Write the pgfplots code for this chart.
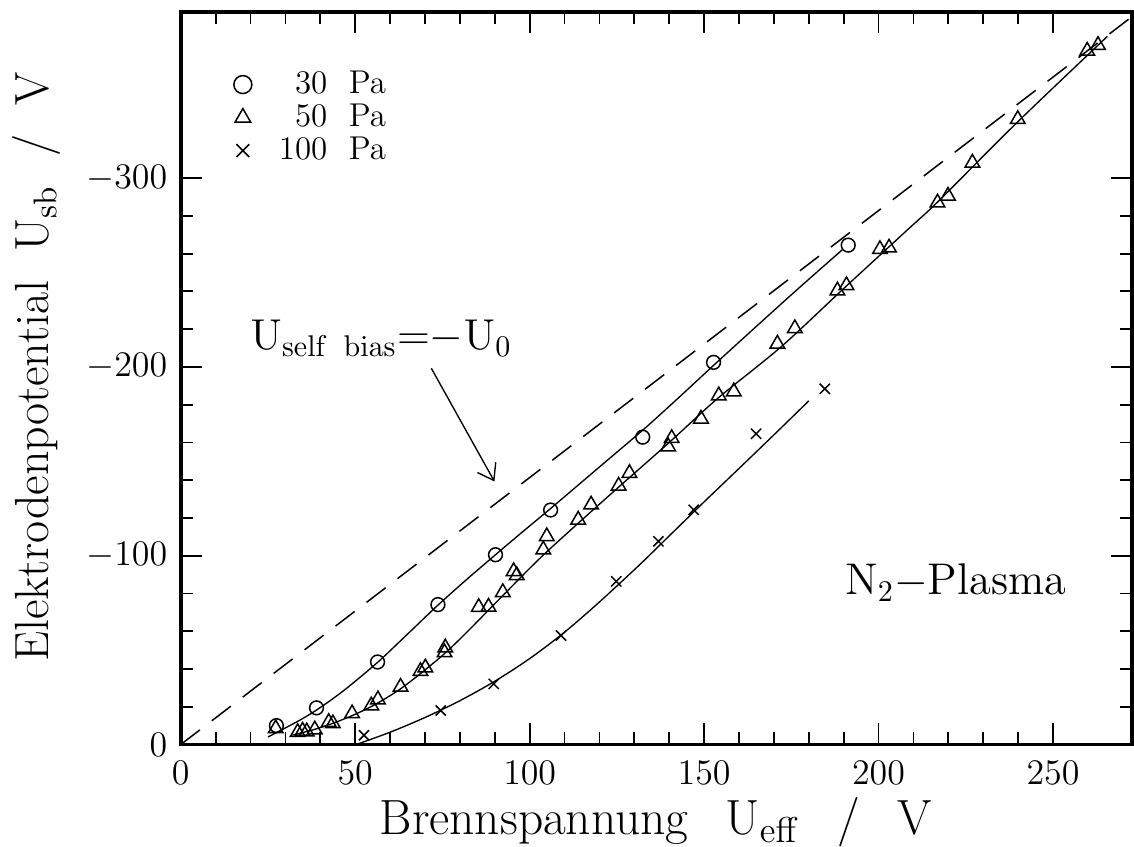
\documentclass[border=0pt]{standalone}
\usepackage{pgfplots}
\pgfplotsset{compat=1.18}
\usetikzlibrary{arrows.meta}
\begin{document}
\begin{tikzpicture}
\begin{axis}[
  name=ax,
  scale only axis,
  width=317.3pt, height=244.3pt,
  xmin=0, xmax=272.7, ymin=0, ymax=388,
  xtick={0,50,100,150,200,250},
  ytick={0,100,200,300},
  yticklabels={$0$,$-100$,$-200$,$-300$},
  minor x tick num=4,
  minor y tick num=4,
  tick align=inside,
  major tick length=7pt,
  minor tick length=4pt,
  every tick/.style={black, line width=0.6pt},
  axis line style={line width=1.2pt},
  tick label style={font=\fontsize{12.5}{14}\selectfont},
  xticklabel style={yshift=-2pt},
  yticklabel style={xshift=-1pt},
  xlabel={Brennspannung\hspace{0.75em}U$_{\mathrm{eff}}$\hspace{0.75em}/\hspace{0.75em}V},
  ylabel={Elektrodenpotential\ \ U$_{\mathrm{sb}}$\ \ /\ \ V},
  label style={font=\fontsize{16}{18}\selectfont, inner sep=0pt},
  xlabel style={font=\fontsize{16.5}{18}\selectfont, at={(axis description cs:0.499,-0.1404)}, anchor=south},
  ylabel style={at={(axis description cs:-0.1774,0.515)}, anchor=north},
  legend style={draw=none, fill=none, at={(axis description cs:0,1)}, anchor=north west,
    xshift=17.5pt, yshift=-17.5pt, font=\fontsize{11}{11}\selectfont, row sep=-2pt, column sep=7pt, inner sep=0pt},
  legend cell align=right,
  legend image post style={mark size=3pt},
]
\addplot[only marks, mark=o, mark size=2.3pt, line width=0.5pt] coordinates {
(27.4,10) (38.9,19.4) (56.4,43.7) (73.7,74.1) (90.2,100.5) (106,124.2) (132.4,162.8) (152.7,202.4) (191.3,264.5)};
\addlegendentry{30\ \ Pa}
\addplot[only marks, mark=triangle, mark size=2.8pt, line width=0.5pt] coordinates {
(27.2,8.5) (33.5,6.5) (34.9,7.2) (36.1,6.8) (38.4,7.9) (42.4,11.8) (43.6,11.1) (49.1,16.4)
(54.6,20.6) (56.5,23.8) (63,30.5) (68.7,38.8) (70.1,40.7) (75.6,48.7) (75.8,51.3) (85.4,72.7)
(88.2,72.9) (92.3,80.6) (95.4,91.7) (96.3,89.6) (103.9,103.2) (104.9,110.2) (113.9,119) (117.6,127)
(125.5,137) (128.6,143.7) (139.7,157.8) (140.7,162.2) (149.1,172.5) (154.2,184.8) (158.5,186.9)
(171,212.2) (176,220.4) (188.2,240.4) (190.8,243.2) (200.4,262.3) (203,263.1) (216.9,287)
(219.9,290.6) (226.9,308.1) (239.9,331.2) (259.8,367.4) (262.9,370.4)};
\addlegendentry{50\ \ Pa}
\addplot[only marks, mark=x, mark size=2.4pt, line width=0.5pt] coordinates {
(52.5,4.9) (74.5,18) (89.7,32.1) (109,57.7) (124.8,86.4) (136.9,107.6) (147,124.3) (164.9,164.6) (184.6,188.4)};
\addlegendentry{100\ \ Pa}
% fitted curves
\addplot[forget plot, line width=0.45pt, smooth] coordinates {
(25,4) (30,8.8) (35,13.8) (40,19.6) (47,29) (56.4,43.5) (65,58.5) (73.7,73.8) (82,87.5) (90.2,100.5)
(98,112.7) (106,125) (120,147) (132.4,166.5) (142,182.5) (152.7,200.8) (165,221.5) (177,241.5) (189.7,262.2)};
\addplot[forget plot, line width=0.45pt, smooth] coordinates {
(32,5) (38,7.8) (44,11.5) (50,16) (56,21.5) (63,29.5) (70,39.5) (76,48.8) (82,59.5) (92,78.3)
(104,100.5) (121.4,129.6) (140,160) (154,183.5) (172.1,210.7) (190,241.5) (208.4,272.8) (217,287.5)
(240,330) (265.6,375.1)};
\addplot[forget plot, line width=0.45pt, smooth] coordinates {
(50.3,0) (60,6.5) (70,14.3) (80,23.2) (90,33.5) (100,45.5) (110,59.5) (120,75.5) (131.4,95)
(140,110.5) (150,128.5) (160,146.2) (170,164) (180,182)};
\addplot[forget plot, line width=0.5pt, dash pattern=on 8pt off 5pt] coordinates {(0,0) (272.7,385.6)};
\node[anchor=base west, font=\fontsize{14}{16}\selectfont, inner sep=0pt] at (axis cs:19.8,209)
  {$\mathrm{U_{self\;\;bias}{=}{-}U_0}$};
\draw[-{Straight Barb[length=5pt,width=7pt]}, line width=0.45pt] (axis cs:71.8,199.3) -- (axis cs:89.9,139.3);
\node[anchor=base west, font=\fontsize{14.8}{16}\selectfont, inner sep=0pt] at (axis cs:190.3,79.4)
  {N$_2{-}$Plasma};
\end{axis}
\path ([xshift=-60.3pt,yshift=4pt]ax.north west) rectangle (ax.south east);
\end{tikzpicture}
\end{document}
